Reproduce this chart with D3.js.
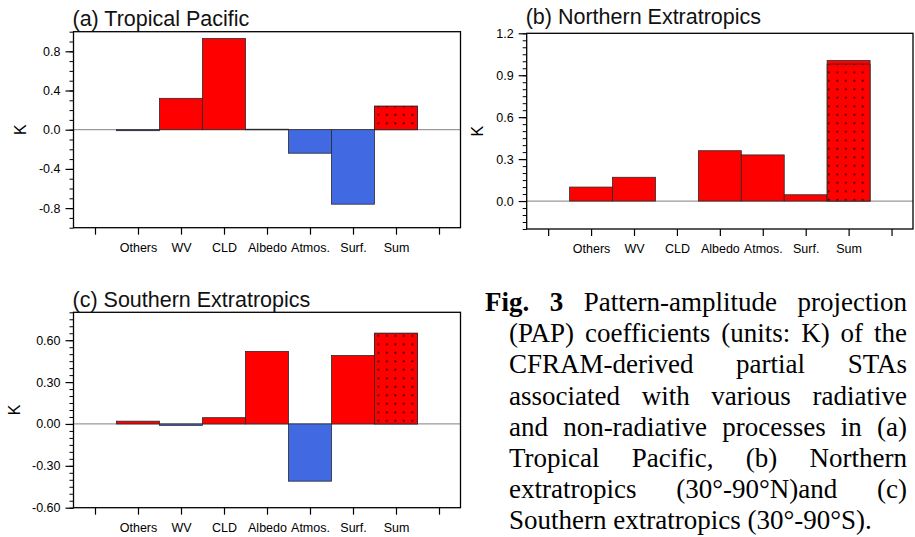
<!DOCTYPE html>
<html>
<head>
<meta charset="utf-8">
<script src="https://cdn.jsdelivr.net/npm/d3@7"></script>
<style>
  html, body { margin: 0; padding: 0; background: #fff; }
  svg { display: block; }
</style>
</head>
<body>
<svg id="chart" width="915" height="537"></svg>
<script>
// ---------------- data ----------------
const categories = ["Others", "WV", "CLD", "Albedo", "Atmos.", "Surf.", "Sum"];
const tropicalValues = [-0.01, 0.32, 0.93, 0.005, -0.24, -0.76, 0.24];
const northernValues = [0.10, 0.17, 0.0, 0.36, 0.33, 0.045, 1.005];
const southernValues = [0.02, -0.01, 0.045, 0.52, -0.41, 0.49, 0.65];
const sumStippled = [0.24, 0.98, 0.65];           // stippled part of the "Sum" bar
const panelTitles = ["(a) Tropical Pacific", "(b) Northern Extratropics", "(c) Southern Extratropics"];
const yTicksA = [-0.8, -0.4, 0.0, 0.4, 0.8];
const yLabelsA = ["-0.8", "-0.4", "0.0", "0.4", "0.8"];
const yTicksB = [0.0, 0.3, 0.6, 0.9, 1.2];
const yLabelsB = ["0.0", "0.3", "0.6", "0.9", "1.2"];
const yTicksC = [-0.6, -0.3, 0.0, 0.3, 0.6];
const yLabelsC = ["-0.60", "-0.30", "0.00", "0.30", "0.60"];
const yUnit = "K";
const captionLines = [
  ["Fig.", "3", "Pattern-amplitude", "projection"],
  ["(PAP)", "coefficients", "(units:", "K)", "of", "the"],
  ["CFRAM-derived", "partial", "STAs"],
  ["associated", "with", "various", "radiative"],
  ["and", "non-radiative", "processes", "in", "(a)"],
  ["Tropical", "Pacific,", "(b)", "Northern"],
  ["extratropics", "(30°-90°N)and", "(c)"],
  ["Southern", "extratropics", "(30°-90°S)."]
];
const captionBoldWords = 2;

// ---------------- layout ----------------
const svg = d3.select("#chart");
svg.append("rect").attr("width", 915).attr("height", 537).attr("fill", "#fff");

const defs = svg.append("defs");
const pat = defs.append("pattern").attr("id", "dots")
  .attr("patternUnits", "userSpaceOnUse").attr("width", 8.5).attr("height", 8.5);
pat.append("rect").attr("width", 8.5).attr("height", 8.5).attr("fill", "#ff0000");
pat.append("rect").attr("x", 3.5).attr("y", 3.5).attr("width", 1.6).attr("height", 1.6).attr("fill", "#000");

const panels = [
  { values: tropicalValues, stip: sumStippled[0], title: panelTitles[0],
    yDomain: [-1, 1], major: yTicksA, labels: yLabelsA, minorStep: 0.1,
    left: 73.5, right: 460.5, top: 31.7, bottom: 227.7, kx: 20, titleY: 25.5 },
  { values: northernValues, stip: sumStippled[1], title: panelTitles[1],
    yDomain: [-0.2, 1.2], major: yTicksB, labels: yLabelsB, minorStep: 0.05,
    left: 526.7, right: 913, top: 33.3, bottom: 229, kx: 477.5, titleY: 23.5 },
  { values: southernValues, stip: sumStippled[2], title: panelTitles[2],
    yDomain: [-0.6, 0.8], major: yTicksC, labels: yLabelsC, minorStep: 0.05,
    left: 73.5, right: 460.5, top: 312.3, bottom: 507.7, kx: 14.5, titleY: 306.5 }
];

const sansFont = "'Liberation Sans', Arial, Helvetica, sans-serif";

panels.forEach(p => {
  const g = svg.append("g");
  const x = d3.scaleLinear().domain([-0.5, 8.5]).range([p.left, p.right]);
  const y = d3.scaleLinear().domain(p.yDomain).range([p.bottom, p.top]);

  // zero reference line
  g.append("line")
    .attr("x1", p.left).attr("x2", p.right)
    .attr("y1", y(0)).attr("y2", y(0))
    .attr("stroke", "#9a9a9a").attr("stroke-width", 1.2);

  // bars
  const data = p.values.map((v, i) => ({ cat: categories[i], v, i: i + 1 }));
  g.selectAll("rect.bar").data(data.filter(d => d.v !== 0)).join("rect")
    .attr("class", "bar")
    .attr("x", d => x(d.i - 0.5))
    .attr("width", d => x(d.i + 0.5) - x(d.i - 0.5))
    .attr("y", d => y(Math.max(0, d.v)))
    .attr("height", d => Math.max(0.6, Math.abs(y(d.v) - y(0))))
    .attr("fill", d => d.v >= 0 ? "#ff0000" : "#4169e1")
    .attr("stroke", "#2a2a2a").attr("stroke-width", 0.8);

  // stippled Sum bar
  const si = categories.length;
  g.append("rect")
    .attr("x", x(si - 0.5)).attr("width", x(si + 0.5) - x(si - 0.5))
    .attr("y", y(Math.max(0, p.stip))).attr("height", Math.abs(y(p.stip) - y(0)))
    .attr("fill", "url(#dots)")
    .attr("stroke", "#2a2a2a").attr("stroke-width", 0.8);

  // frame
  g.append("rect")
    .attr("x", p.left).attr("y", p.top)
    .attr("width", p.right - p.left).attr("height", p.bottom - p.top)
    .attr("fill", "none").attr("stroke", "#000").attr("stroke-width", 1.3);

  // y minor ticks
  const minor = d3.range(Math.round(p.yDomain[0] / p.minorStep), Math.round(p.yDomain[1] / p.minorStep) + 1)
    .map(k => +(k * p.minorStep).toFixed(4));
  const yMinor = g.append("g").attr("transform", `translate(${p.left},0)`)
    .call(d3.axisLeft(y).tickValues(minor).tickFormat("").tickSize(4).tickSizeOuter(0));
  yMinor.select(".domain").remove();
  yMinor.selectAll("line").attr("stroke", "#000").attr("stroke-width", 1);

  // y major ticks
  const yAx = g.append("g").attr("transform", `translate(${p.left},0)`)
    .call(d3.axisLeft(y).tickValues(p.major)
      .tickFormat((d, i) => p.labels[i]).tickSize(8).tickPadding(5).tickSizeOuter(0));
  yAx.select(".domain").remove();
  yAx.selectAll("line").attr("stroke", "#000").attr("stroke-width", 1.2);
  yAx.selectAll("text").attr("font-family", sansFont).attr("font-size", 12.5).attr("fill", "#000");

  // x axis
  const xAx = g.append("g").attr("transform", `translate(0,${p.bottom})`)
    .call(d3.axisBottom(x).tickValues(d3.range(0, categories.length + 2))
      .tickFormat(i => categories[i - 1] || "").tickSize(7).tickPadding(8).tickSizeOuter(0));
  xAx.select(".domain").remove();
  xAx.selectAll("line").attr("stroke", "#000").attr("stroke-width", 1.2);
  xAx.selectAll("text").attr("font-family", sansFont).attr("font-size", 12.5).attr("fill", "#000");

  // y unit label
  g.append("text")
    .attr("transform", `translate(${p.kx},${(p.top + p.bottom) / 2}) rotate(-90)`)
    .attr("text-anchor", "middle").attr("dy", "0.36em")
    .attr("font-family", sansFont).attr("font-size", 16).text(yUnit);

  // title
  g.append("text")
    .attr("x", p.left - 1).attr("y", p.titleY)
    .attr("font-family", sansFont).attr("font-size", 21.5).attr("fill", "#111")
    .text(p.title);
});

// ---------------- caption (justified) ----------------
const serif = "'Liberation Serif', 'Times New Roman', Times, serif";
const cap = svg.append("g").attr("font-family", serif).attr("font-size", 27).attr("fill", "#000");
const capRight = 907;
captionLines.forEach((words, li) => {
  const x0 = li === 0 ? 485 : 509;
  const yb = 311 + li * 31.2;
  const nodes = words.map((w, wi) => {
    const bold = li === 0 && wi < captionBoldWords;
    return cap.append("text").attr("y", yb)
      .attr("font-weight", bold ? "bold" : "normal").text(w);
  });
  const widths = nodes.map(n => n.node().getComputedTextLength());
  const total = d3.sum(widths);
  const last = li === captionLines.length - 1;
  const gap = last ? 27 * 0.25 : (capRight - x0 - total) / (words.length - 1);
  let cx = x0;
  nodes.forEach((n, i) => { n.attr("x", cx); cx += widths[i] + gap; });
});
</script>
</body>
</html>
